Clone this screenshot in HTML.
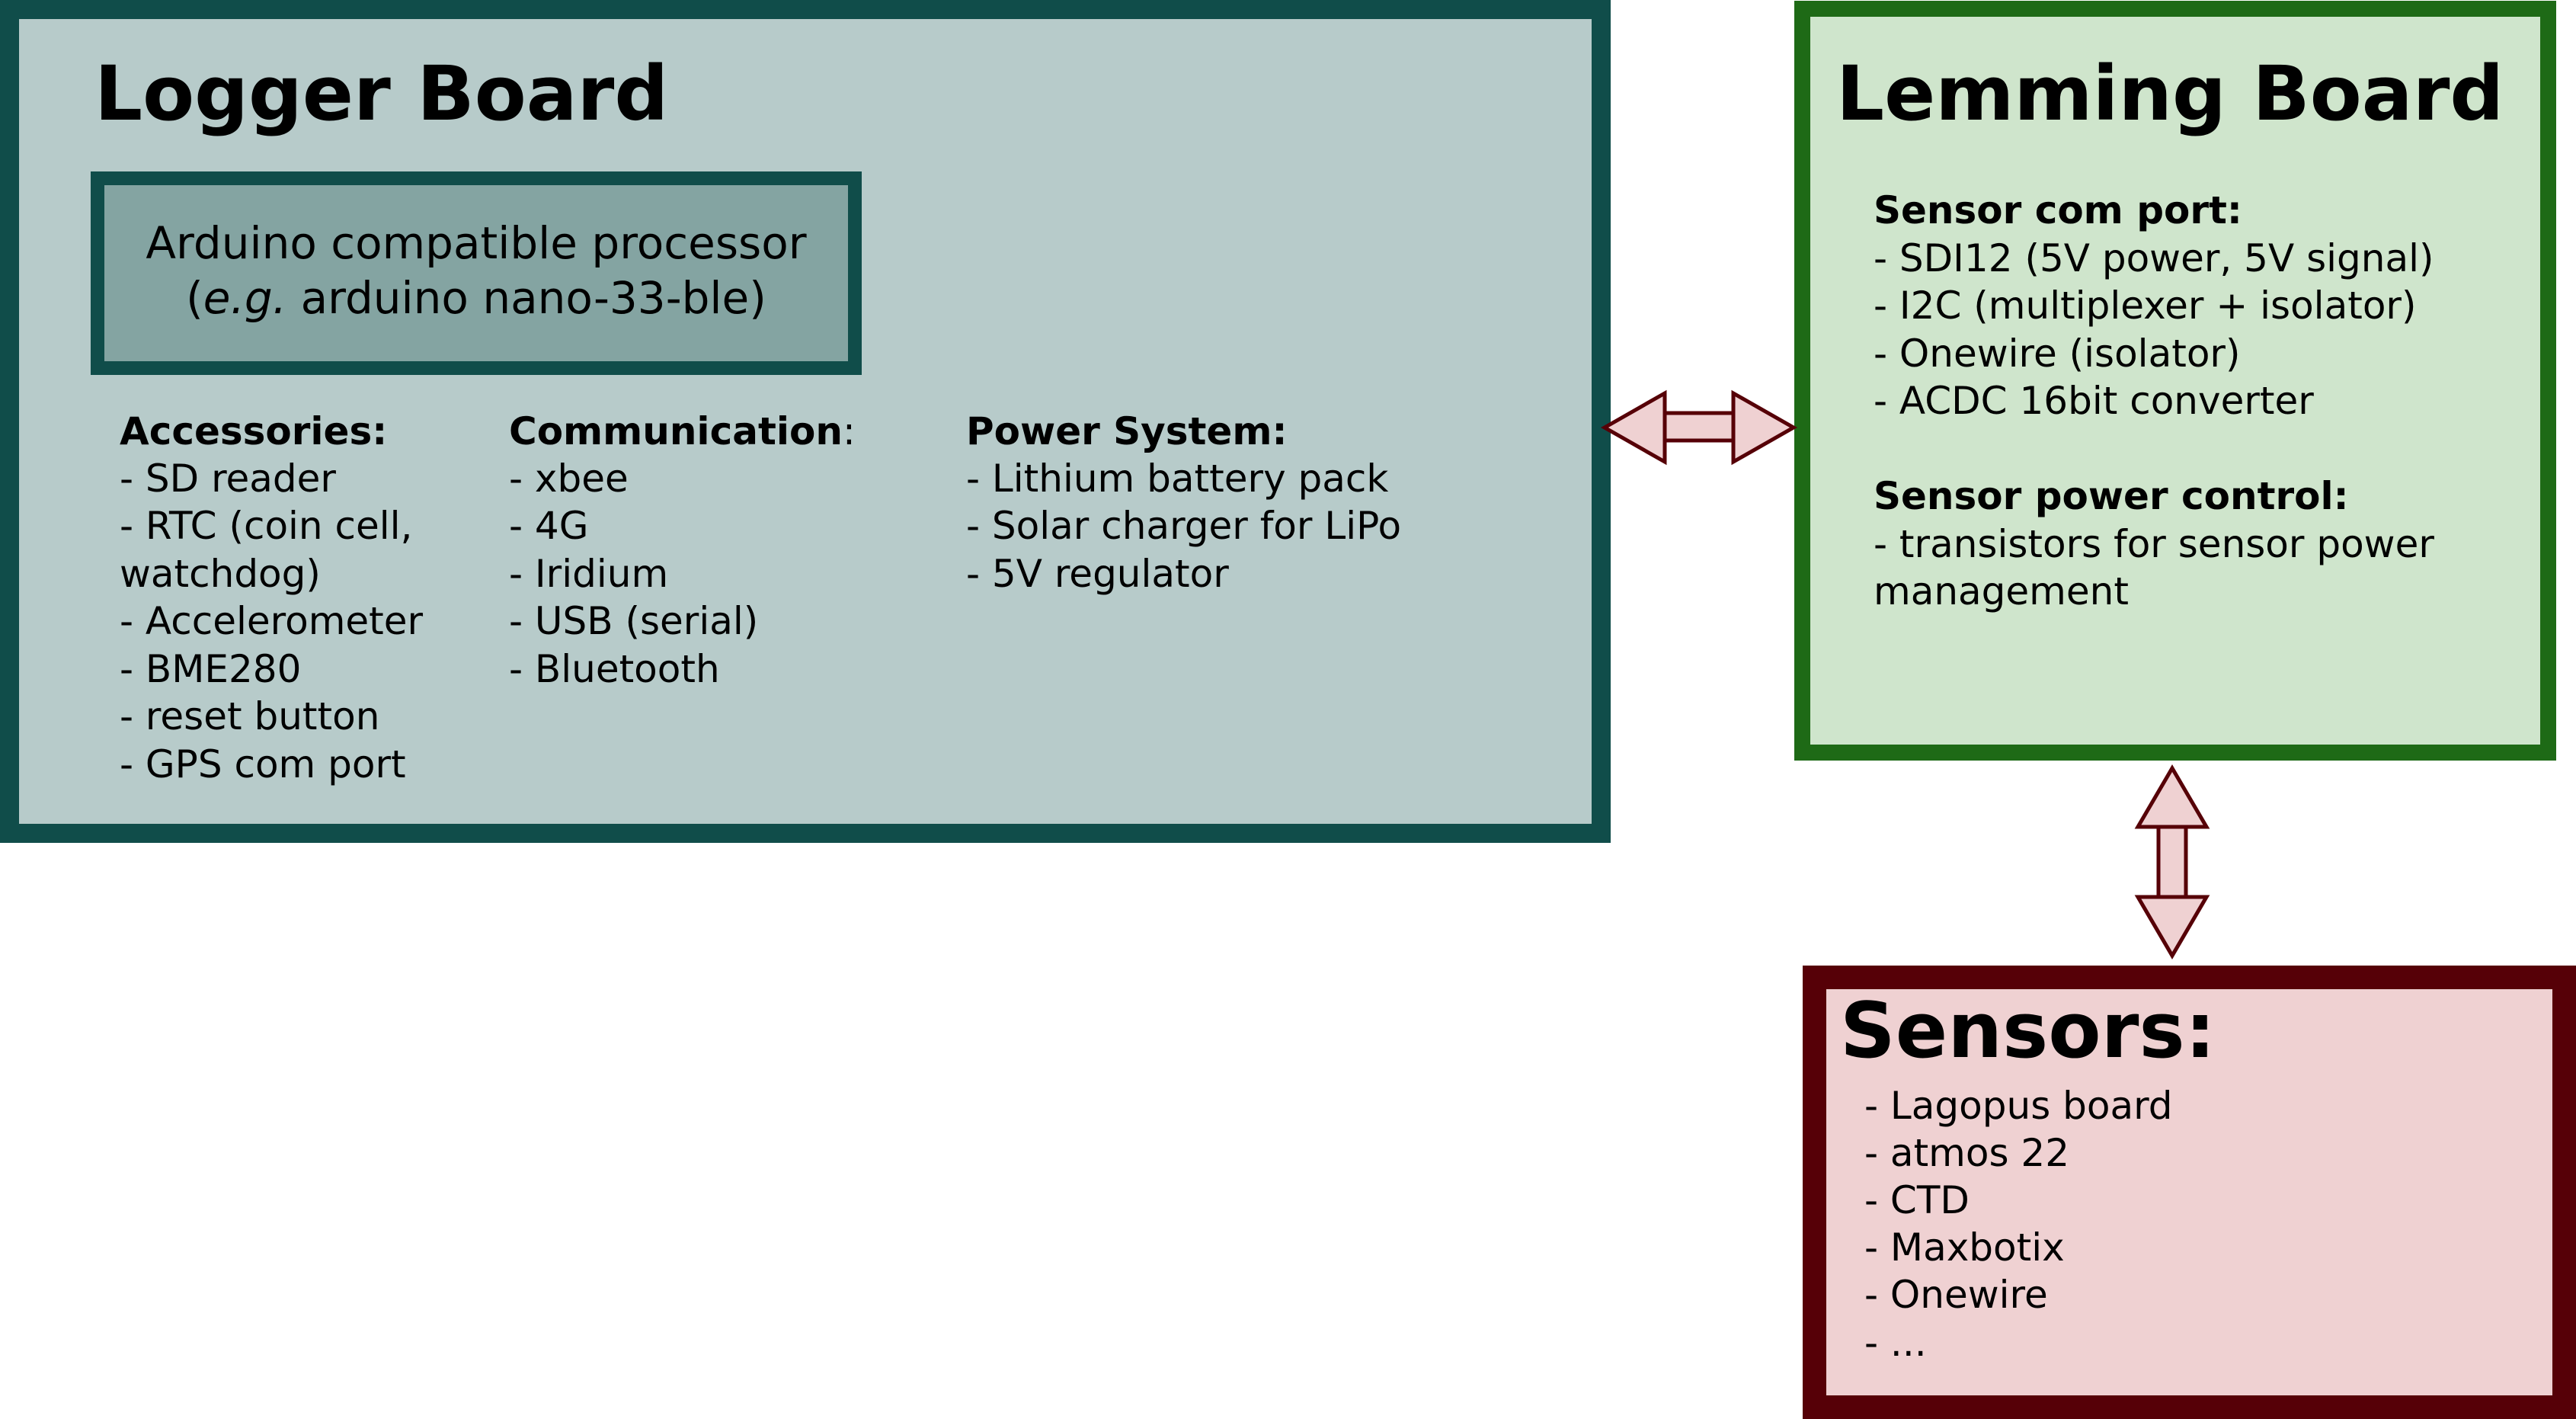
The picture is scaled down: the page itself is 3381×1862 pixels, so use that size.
<!DOCTYPE html>
<html><head><meta charset="utf-8"><style>html,body{margin:0;padding:0;background:#fff}svg{display:block}</style></head>
<body>
<svg width="3381" height="1862" viewBox="0 0 3381 1862" xmlns="http://www.w3.org/2000/svg" font-family="'DejaVu Sans', 'Liberation Sans', sans-serif">
<!-- Logger board -->
<rect x="12.5" y="12.5" width="2089" height="1081" fill="#b7cbca" stroke="#104d4a" stroke-width="25"/>
<text x="124" y="157" font-size="99" font-weight="bold" fill="#000">Logger Board</text>
<rect x="128" y="234" width="994" height="249" fill="#84a4a2" stroke="#104d4a" stroke-width="18"/>
<text x="625" y="339" font-size="58" text-anchor="middle" fill="#000">Arduino compatible processor</text>
<text x="625" y="411" font-size="58" text-anchor="middle" fill="#000">(<tspan font-style="italic">e.g.</tspan> arduino nano-33-ble)</text>
<g font-size="50" fill="#000">
<text x="157" y="583" font-weight="bold">Accessories:</text>
<text x="157" y="645">- SD reader</text>
<text x="157" y="707">- RTC (coin cell,</text>
<text x="157" y="770">watchdog)</text>
<text x="157" y="832">- Accelerometer</text>
<text x="157" y="895">- BME280</text>
<text x="157" y="957">- reset button</text>
<text x="157" y="1020">- GPS com port</text>
<text x="668" y="583"><tspan font-weight="bold">Communication</tspan>:</text>
<text x="668" y="645">- xbee</text>
<text x="668" y="707">- 4G</text>
<text x="668" y="770">- Iridium</text>
<text x="668" y="832">- USB (serial)</text>
<text x="668" y="895">- Bluetooth</text>
<text x="1268" y="583" font-weight="bold">Power System:</text>
<text x="1268" y="645">- Lithium battery pack</text>
<text x="1268" y="707">- Solar charger for LiPo</text>
<text x="1268" y="770">- 5V regulator</text>
</g>
<!-- Lemming board -->
<rect x="2365.5" y="11.5" width="979" height="976" fill="#cfe5cc" stroke="#1e6a16" stroke-width="21"/>
<text x="2410" y="157" font-size="99" font-weight="bold" fill="#000">Lemming Board</text>
<g font-size="50" fill="#000">
<text x="2459" y="293" font-weight="bold">Sensor com port:</text>
<text x="2459" y="356">- SDI12 (5V power, 5V signal)</text>
<text x="2459" y="418">- I2C (multiplexer + isolator)</text>
<text x="2459" y="481">- Onewire (isolator)</text>
<text x="2459" y="543">- ACDC 16bit converter</text>
<text x="2459" y="668" font-weight="bold">Sensor power control:</text>
<text x="2459" y="731">- transistors for sensor power</text>
<text x="2459" y="793">management</text>
</g>
<!-- Sensors -->
<rect x="2381.5" y="1282.5" width="984" height="564" fill="#efd1d2" stroke="#560007" stroke-width="31"/>
<text x="2415" y="1387" font-size="101" font-weight="bold" fill="#000">Sensors:</text>
<g font-size="50" fill="#000">
<text x="2447" y="1468">- Lagopus board</text>
<text x="2447" y="1530">- atmos 22</text>
<text x="2447" y="1592">- CTD</text>
<text x="2447" y="1654">- Maxbotix</text>
<text x="2447" y="1716">- Onewire</text>
<text x="2447" y="1779">- ...</text>
</g>
<!-- Arrows -->
<path d="M2106,561 L2185,516 L2185,542 L2275,542 L2275,516 L2354,561 L2275,606 L2275,578 L2185,578 L2185,606 Z" fill="#efd1d2" stroke="#560007" stroke-width="5" stroke-linejoin="miter"/>
<line x1="2185" y1="542" x2="2185" y2="578" stroke="#560007" stroke-width="5"/>
<line x1="2275" y1="542" x2="2275" y2="578" stroke="#560007" stroke-width="5"/>
<path d="M2851,1008 L2896,1085 L2869,1085 L2869,1177 L2896,1177 L2851,1254 L2806,1177 L2833,1177 L2833,1085 L2806,1085 Z" fill="#efd1d2" stroke="#560007" stroke-width="5"/>
<line x1="2833" y1="1085" x2="2869" y2="1085" stroke="#560007" stroke-width="5"/>
<line x1="2833" y1="1177" x2="2869" y2="1177" stroke="#560007" stroke-width="5"/>
</svg>
</body></html>
